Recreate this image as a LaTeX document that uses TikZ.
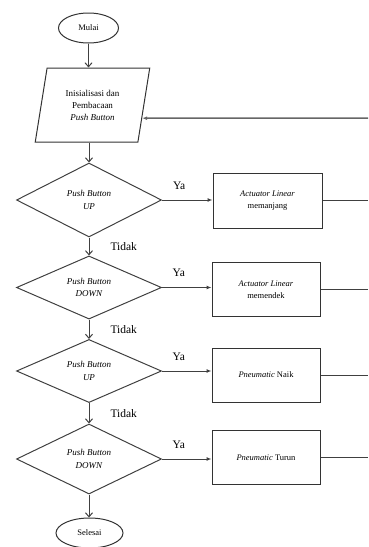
\documentclass[tikz,border=0pt]{standalone}
\usepackage{fontspec}
\setmainfont{Liberation Serif}
\usetikzlibrary{shapes.geometric,arrows.meta,calc}
\begin{document}
\begin{tikzpicture}[x=1pt,y=-1pt,
  line/.style={draw=black!75,line width=1pt},
  term/.style={ellipse,draw=black!80,line width=1pt,minimum width=60pt,minimum height=30pt,inner sep=0pt,font=\fontsize{8.5}{10}\selectfont},
  dec/.style={diamond,draw=black!75,line width=1pt,minimum width=145pt,inner sep=0pt,align=center,font=\fontsize{9}{12.5}\selectfont},
  proc/.style={rectangle,draw=black!80,line width=1pt,minimum width=108pt,minimum height=54pt,inner sep=0pt,align=center,font=\fontsize{8.5}{12.5}\selectfont},
  io/.style={trapezium,trapezium left angle=77,trapezium right angle=103,trapezium stretches=true,minimum width=115pt,minimum height=74pt,inner sep=0pt,draw=black!80,line width=1pt,align=center,font=\fontsize{9}{12}\selectfont},
  lbl/.style={inner sep=0pt,font=\fontsize{11.5}{13}\selectfont},
  varr/.style={line,-{Straight Barb[length=4pt,width=7pt]}},
  harr/.style={line,-{Latex[length=5pt,width=4pt]}},
  back/.style={line,-{Latex[length=5pt,width=4pt]}}
]
\useasboundingbox (0,0) rectangle (368,547);
\coordinate (edge) at (368,0);
\coordinate (ret) at (368,118);

\node[term] (start) at (88.5,28) {Mulai};
\node[io] (init) at (92.5,105) {Inisialisasi dan\\Pembacaan\\\textit{Push Button}};
\node[dec,minimum height=74pt] (d1) at (89,200) {\textit{Push Button}\\\textit{UP}};
\node[dec,minimum height=61pt] (d2) at (89,287.5) {\textit{Push Button}\\\textit{DOWN}};
\node[dec,minimum height=62pt] (d3) at (89,371) {\textit{Push Button}\\\textit{UP}};
\node[dec,minimum height=70pt] (d4) at (89,459) {\textit{Push Button}\\\textit{DOWN}};
\node[proc,minimum width=109pt,minimum height=55pt] (b1) at (267.5,200.5) {\textit{Actuator Linear}\\memanjang};
\node[proc] (b2) at (266,289.5) {\textit{Actuator Linear}\\memendek};
\node[proc] (b3) at (266,375) {\textit{Pneumatic} Naik};
\node[proc] (b4) at (266,457.5) {\textit{Pneumatic} Turun};
\node[term,minimum width=67pt] (end) at (89.5,533) {Selesai};

\draw[varr] (start.south) -- (start.south |- init.north);
\draw[varr] (init.south -| d1.north) -- (d1.north);
\draw[varr] (d1.south) -- node[lbl,right=21pt]{Tidak} (d2.north);
\draw[varr] (d2.south) -- node[lbl,right=21pt]{Tidak} (d3.north);
\draw[varr] (d3.south) -- node[lbl,right=21pt]{Tidak} (d4.north);
\draw[varr] (d4.south) -- (d4.south |- end.north);

\draw[harr] (d1.east) -- node[lbl,pos=0.34,above=10pt]{Ya} (d1.east -| b1.west);
\draw[harr] (d2.east) -- node[lbl,pos=0.34,above=10pt]{Ya} (d2.east -| b2.west);
\draw[harr] (d3.east) -- node[lbl,pos=0.34,above=10pt]{Ya} (d3.east -| b3.west);
\draw[harr] (d4.east) -- node[lbl,pos=0.34,above=10pt]{Ya} (d4.east -| b4.west);

\draw[line] (b1.east) -- (b1.east -| edge);
\draw[line] (b2.east) -- (b2.east -| edge);
\draw[line] (b3.east) -- (b3.east -| edge);
\draw[line] (b4.east) -- (b4.east -| edge);

\draw[back,draw=black!60,line width=1.5pt] (ret) -- ($(init.bottom right corner)!0.324!(init.top right corner)$);
\end{tikzpicture}
\end{document}
